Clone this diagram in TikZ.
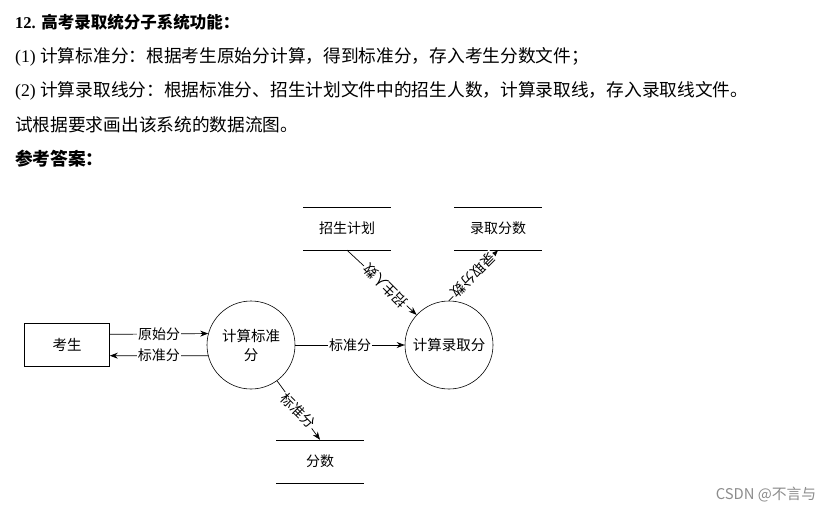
\documentclass[tikz,border=0pt]{standalone}
\usepackage{fontspec}
\setmainfont{Liberation Serif}
\newfontfamily\cjk{Noto Sans CJK SC}
\usetikzlibrary{arrows.meta}
\tikzset{
  entity/.style={draw, line width=0.6pt, minimum width=85pt, minimum height=43pt, font=\cjk\fontsize{14.5}{17}\selectfont},
  process/.style={draw, circle, line width=0.6pt, minimum size=88pt, inner sep=0pt, align=center, font=\cjk\fontsize{14.5}{19}\selectfont},
  store/.style={minimum width=87pt, minimum height=43pt, font=\cjk\fontsize{14}{17}\selectfont},
  flowarrow/.style={-{Stealth[length=8pt,width=6pt]}, line width=0.7pt},
  flowlabel/.style={fill=white, inner sep=1pt, font=\cjk\fontsize{14}{16}\selectfont},
  textline/.style={anchor=west, inner sep=0pt, font=\fontsize{17.7}{20}\selectfont}
}
\begin{document}
\begin{tikzpicture}[x=1pt, y=-1pt]
  \useasboundingbox (0,0) rectangle (830,512);

  \node[textline, font=\fontsize{16.5}{20}\selectfont] (q0) at (15,22) {\textbf{12.} {\cjk\bfseries 高考录取统分子系统功能：}};
  \node[textline] (q1) at (15,57) {(1) {\cjk 计算标准分：根据考生原始分计算，得到标准分，存入考生分数文件；}};
  \node[textline] (q2) at (15,91) {(2) {\cjk 计算录取线分：根据标准分、招生计划文件中的招生人数，计算录取线，存入录取线文件。}};
  \node[textline] (q3) at (15,125) {\cjk 试根据要求画出该系统的数据流图。};
  \node[textline] (q4) at (15,159) {\cjk\bfseries 参考答案：};

  \node[entity] (kaosheng) at (67,345) {考生};
  \node[process] (jisuan) at (251,345) {计算标准\\分};
  \node[process] (luqu) at (449,345) {计算录取分};
  \node[store] (plan) at (347,228.5) {招生计划};
  \node[store] (score) at (498,228.5) {录取分数};
  \node[store] (fenshu) at (320,461.5) {分数};
  \foreach \s in {plan,score,fenshu}
    \draw[line width=0.6pt] (\s.north west) -- (\s.north east) (\s.south west) -- (\s.south east);

  \draw[flowarrow] (kaosheng.14.5) -- node[flowlabel] {原始分} (jisuan.165.5);
  \draw[flowarrow] (jisuan.194.5) -- node[flowlabel] {标准分} (kaosheng.-14.5);
  \draw[flowarrow] (jisuan) -- node[flowlabel] {标准分} (luqu);
  \draw[flowarrow] (plan.south) -- node[flowlabel, rotate=135, pos=0.55] {招生人数} (luqu);
  \draw[flowarrow] (luqu.north) -- node[flowlabel, rotate=225] {录取分数} (score.south);
  \draw[flowarrow] (jisuan) -- node[flowlabel, rotate=-45] {标准分} (fenshu.north);

  \node[text=black!45, font=\cjk\fontsize{14.8}{17}\selectfont] (mark) at (766,495) {CSDN @不言与};
\end{tikzpicture}
\end{document}
